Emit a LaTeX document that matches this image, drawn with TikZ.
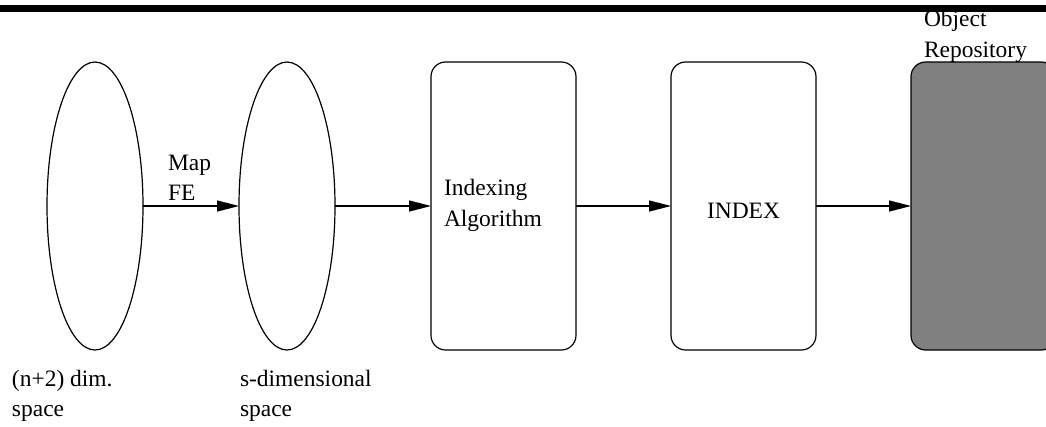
\documentclass[tikz,border=0pt]{standalone}
\usepackage{fontspec}
\setmainfont{Liberation Serif}
\usetikzlibrary{shapes.geometric,arrows.meta}
\begin{document}
\begin{tikzpicture}[x=0.75pt,y=-0.75pt,
  lbl/.style={anchor=base west,inner sep=0pt,outer sep=0pt,font=\fontsize{17.6pt}{23pt}\selectfont},
  space/.style={draw,line width=0.9pt,ellipse,inner sep=0pt,outer sep=0pt,minimum width=72pt,minimum height=216pt},
  stage/.style={draw,line width=0.9pt,rounded corners=11pt,inner sep=0pt,outer sep=0pt,minimum width=108.75pt,minimum height=216pt},
  flow/.style={line width=0.9pt,-{Triangle[length=16.5pt,width=8.25pt]}}]
\useasboundingbox (0,0) rectangle (1046,426);
\clip (0,0) rectangle (1046,426);

% pipeline stages
\node[space] (src) at (95,206) {};
\node[space] (dst) at (287,206) {};
\node[stage] (algo) at (503.5,206) {};
\node[stage] (idx) at (743.5,206) {};
\node[stage,fill={rgb,255:red,128;green,128;blue,128}] (repo) at (983.5,206) {};

% connectors
\draw[flow] (src.east) -- (dst.west);
\draw[flow] (dst.east) -- (algo.west);
\draw[flow] (algo.east) -- (idx.west);
\draw[flow] (idx.east) -- (repo.west);

% labels
\node[lbl] (map1) at (168,170.5) {Map};
\node[lbl] (map2) at (168,200.5) {FE};
\node[lbl] (alg1) at (444,195) {Indexing};
\node[lbl] (alg2) at (444,226) {Algorithm};
\node[lbl] (idxl) at (707,218) {INDEX};
\node[lbl] (rep1) at (924,26) {Object};
\node[lbl] (rep2) at (924,57) {Repository};
\node[lbl] (src1) at (12,386) {(n+2) dim.};
\node[lbl] (src2) at (12,416.5) {space};
\node[lbl] (dst1) at (240,386) {s-dimensional};
\node[lbl] (dst2) at (240,416.5) {space};

% heavy rule across the top
\fill (0,5) rectangle (1046,12);
\end{tikzpicture}
\end{document}
